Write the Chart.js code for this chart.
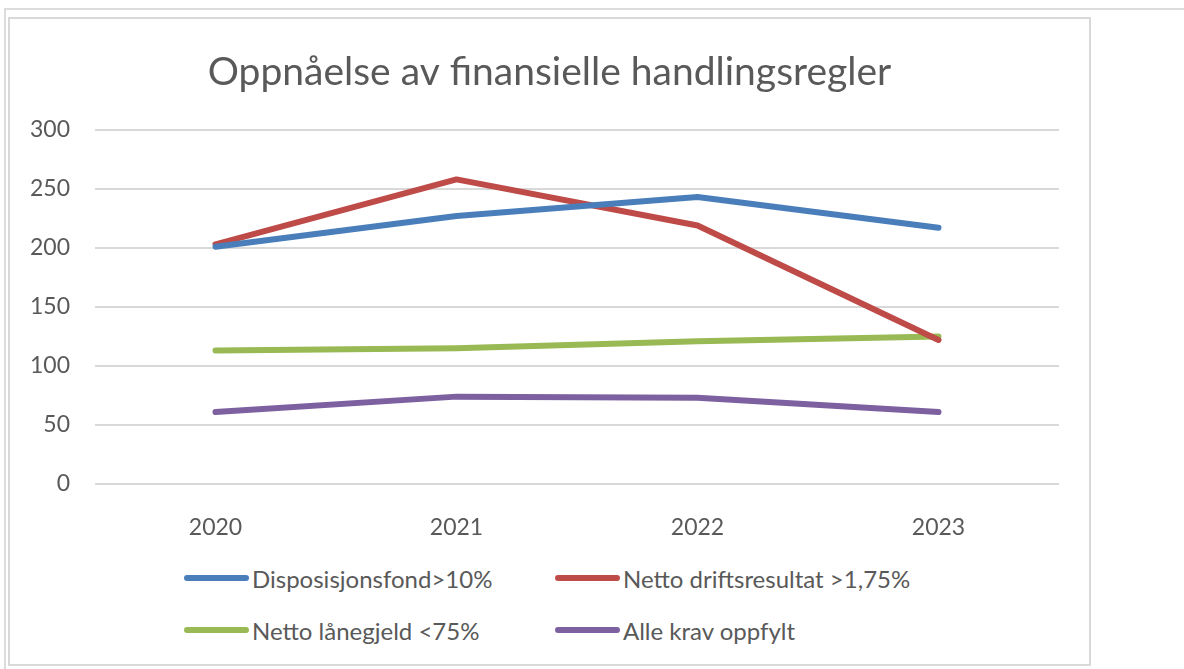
<!DOCTYPE html>
<html>
<head>
<meta charset="utf-8">
<script src="https://cdn.jsdelivr.net/npm/chart.js@4"></script>
<style>
  body { margin: 0; background: #fff; font-family: Lato, sans-serif; }
  .ramme { position: absolute; left: 4px; top: 8px; width: 1190px; height: 670px;
           border-top: 2px solid #dcdcdc; border-left: 2px solid #dcdcdc; }
  .boks { position: absolute; left: 8px; top: 17px; width: 1079px; height: 645px;
          border: 2px solid #d9d9d9; background: #fff; }
  .lerret { position: absolute; left: 0; top: 0; width: 1079px; height: 529px; }
  .forklaring-element { position: absolute; display: flex; align-items: center;
          font-size: 24px; color: #595959; white-space: nowrap; }
  .strek { display: inline-block; width: 65px; height: 6px; border-radius: 3px; margin-right: 3px; }
</style>
</head>
<body>
<div class="ramme"></div>
<div class="boks">
  <div class="lerret"><canvas id="grafLinje"></canvas></div>
  <div id="forklaring"></div>
</div>
<script>
// === DATA === //
const aar = ['2020', '2021', '2022', '2023'];
const disposisjonsfond = [201, 227, 243, 217];
const nettoDriftsresultat = [203, 258, 219, 122];
const nettoLanegjeld = [113, 115, 121, 125];
const alleKrav = [61, 74, 73, 61];
const serieNavn = ['Disposisjonsfond>10%', 'Netto driftsresultat >1,75%', 'Netto lånegjeld <75%', 'Alle krav oppfylt'];
const farger = ['#4a7ebb', '#be4b48', '#98b954', '#7d60a0'];

const serier = [disposisjonsfond, nettoDriftsresultat, nettoLanegjeld, alleKrav];

// Tittelen skal sentreres over hele boksen, ikke bare innenfor padding
const tittelSentrert = {
    id: 'tittelSentrert',
    afterLayout(chart) {
        const t = chart.titleBlock;
        if (t) {
            t.left = 0;
            t.right = chart.width;
            t.width = chart.width;
        }
    }
};

const ctx = document.getElementById('grafLinje');

new Chart(ctx, {
    type: 'line',
    data: {
        labels: aar,
        datasets: serier.map((verdier, i) => ({
            label: serieNavn[i],
            data: verdier,
            borderColor: farger[i],
            backgroundColor: farger[i],
            borderWidth: 6,
            borderCapStyle: 'round',
            borderJoinStyle: 'round',
            pointRadius: 0,
            tension: 0
        }))
    },
    options: {
        responsive: true,
        maintainAspectRatio: false,
        animation: false,
        layout: { padding: { left: 0, right: 30, top: 0, bottom: 0 } },
        plugins: {
            legend: { display: false },
            tooltip: { enabled: false },
            title: {
                display: true,
                text: 'Oppnåelse av finansielle handlingsregler',
                color: '#595959',
                font: { family: 'Lato', size: 39, weight: 'normal' },
                padding: { top: 30, bottom: 34 }
            }
        },
        scales: {
            x: {
                offset: true,
                grid: { display: false },
                border: { display: false },
                ticks: { color: '#595959', font: { family: 'Lato', size: 23 }, padding: 22 },
                afterFit: (scale) => { scale.height = 64; }
            },
            y: {
                min: 0,
                max: 300,
                ticks: { stepSize: 50, color: '#595959', font: { family: 'Lato', size: 23 }, padding: 25 },
                grid: { color: '#d9d9d9', lineWidth: 2, drawTicks: false },
                border: { display: false },
                afterFit: (scale) => { scale.width = 85; }
            }
        }
    },
    plugins: [tittelSentrert]
});

// Forklaring (legend) i to kolonner som i Excel
const forklaring = document.getElementById('forklaring');
const kolonneX = [174, 545];
const radY = [559, 611];
serieNavn.forEach((navn, i) => {
    const el = document.createElement('div');
    el.className = 'forklaring-element';
    el.style.left = kolonneX[i % 2] + 'px';
    el.style.top = (radY[Math.floor(i / 2)] - 14) + 'px';
    el.style.height = '28px';
    el.innerHTML = '<span class="strek" style="background:' + farger[i] + '"></span>' + navn;
    forklaring.appendChild(el);
});
</script>
</body>
</html>
